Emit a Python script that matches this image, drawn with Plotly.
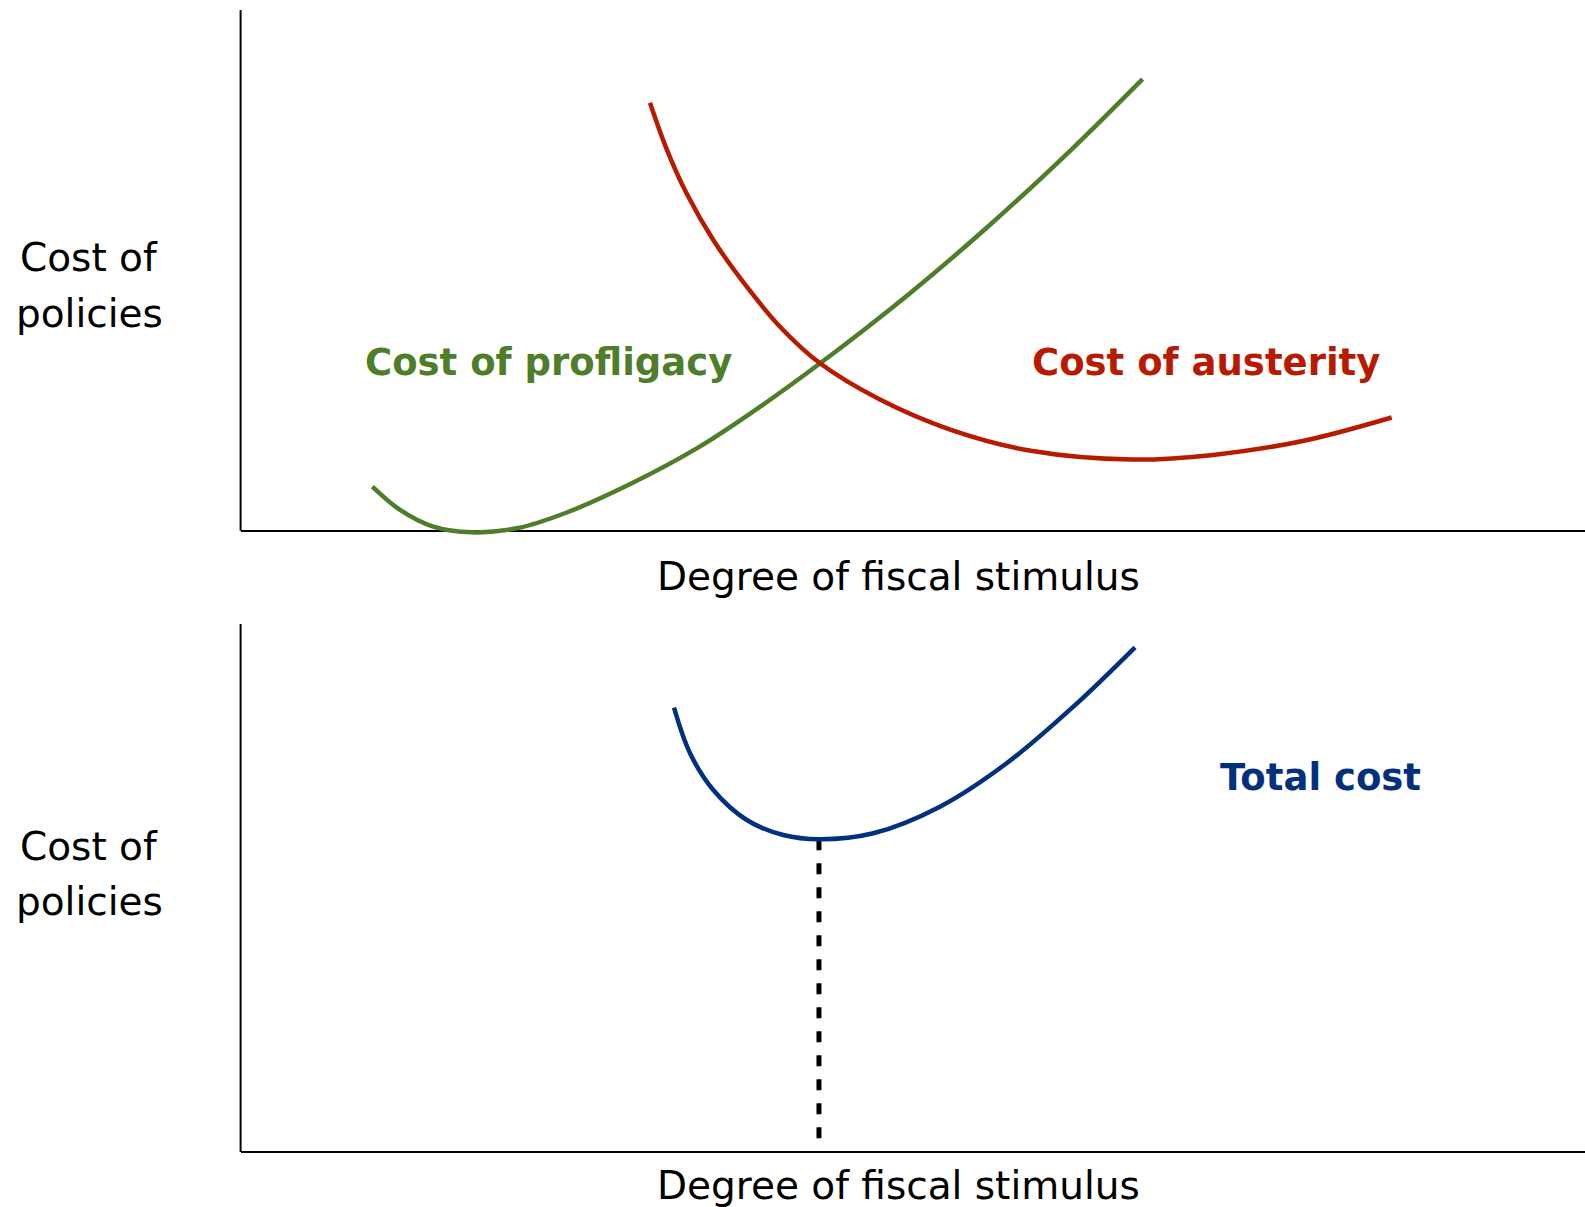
import plotly.graph_objects as go

# ---- data (arbitrary units: x = degree of fiscal stimulus, y = cost, 0-100) ----
profligacy_x = [9.80, 11.86, 14.33, 17.19, 20.54, 24.26, 29.21, 33.93, 37.74, 43.16, 49.77, 55.79, 61.80, 67.09]
profligacy_y = [8.45, 3.98, 0.77, -0.31, 0.46, 3.50, 9.26, 15.81, 22.20, 32.26, 45.57, 58.86, 73.21, 86.73]

austerity_x = [30.45, 31.72, 33.18, 35.16, 37.65, 40.12, 43.10, 47.52, 52.78, 58.79, 66.30, 72.33, 79.10, 85.62]
austerity_y = [82.20, 73.11, 64.76, 55.83, 46.86, 39.18, 32.15, 25.24, 19.42, 15.34, 13.67, 14.56, 17.28, 21.74]

total_x = [32.24, 33.43, 35.16, 37.65, 40.37, 43.02, 47.06, 52.02, 56.98, 61.94, 66.53]
total_y = [84.10, 75.47, 68.52, 62.84, 60.00, 59.19, 60.33, 65.36, 73.58, 84.29, 95.53]

optimum_x = [43.02, 43.02]
optimum_y = [59.19, 0.0]

y_label = ["Cost of", "policies"]
x_label = "Degree of fiscal stimulus"
labels = ["Cost of profligacy", "Cost of austerity", "Total cost"]

GREEN = "#4F7E2B"
RED = "#B81A00"
BLUE = "#00307E"
FONT = "DejaVu Sans"

fig = go.Figure()

curve = dict(width=4.5, shape="spline", smoothing=1.0)
fig.add_trace(go.Scatter(x=profligacy_x, y=profligacy_y, mode="lines",
                         line=dict(color=GREEN, **curve),
                         xaxis="x", yaxis="y", hoverinfo="skip"))
fig.add_trace(go.Scatter(x=austerity_x, y=austerity_y, mode="lines",
                         line=dict(color=RED, **curve),
                         xaxis="x", yaxis="y", hoverinfo="skip"))
fig.add_trace(go.Scatter(x=optimum_x, y=optimum_y, mode="lines",
                         line=dict(color="black", width=5, dash="11px,13px"),
                         xaxis="x2", yaxis="y2", hoverinfo="skip"))
fig.add_trace(go.Scatter(x=total_x, y=total_y, mode="lines",
                         line=dict(color=BLUE, **curve),
                         xaxis="x2", yaxis="y2", hoverinfo="skip"))

W, H = 1585, 1207
left = 240.6 / W

ax_common = dict(showgrid=False, showticklabels=False, ticks="", zeroline=False,
                 showline=False, fixedrange=True)
ay_common = dict(showgrid=False, showticklabels=False, ticks="", zeroline=True,
                 zerolinecolor="black", zerolinewidth=2,
                 showline=False, fixedrange=True)

fig.update_layout(
    width=W, height=H,
    margin=dict(l=0, r=0, t=0, b=0),
    paper_bgcolor="white", plot_bgcolor="white",
    showlegend=False,
    xaxis=dict(domain=[left, 1.0], range=[0, 100], anchor="y", **ax_common),
    yaxis=dict(domain=[1 - 535.4 / H, 1 - 9 / H], range=[-0.9, 100.2], anchor="x", **ay_common),
    xaxis2=dict(domain=[left, 1.0], range=[0, 100], anchor="y2", **ax_common),
    yaxis2=dict(domain=[1 - 1156.75 / H, 1 - 623.7 / H], range=[-0.9, 100], anchor="x2", **ay_common),
)

# vertical (cost) axis lines, from the horizontal axis up
for yr in ["y", "y2"]:
    fig.add_shape(type="line", xref="paper", yref=yr, x0=left, x1=left, y0=0, y1=100,
                  line=dict(color="black", width=2), layer="below")

reg = dict(family=FONT, size=39, color="black")
bold = lambda c: dict(family=FONT, size=37, color=c, weight="bold")

ann = [
    dict(text=y_label[0], x=89 / W, y=1 - 257.8 / H, font=reg),
    dict(text=y_label[1], x=89 / W, y=1 - 313.3 / H, font=reg),
    dict(text=y_label[0], x=89 / W, y=1 - 846.1 / H, font=reg),
    dict(text=y_label[1], x=89 / W, y=1 - 901.6 / H, font=reg),
    dict(text=x_label, x=898.5 / W, y=1 - 577 / H, font=reg),
    dict(text=x_label, x=898.5 / W, y=1 - 1185.5 / H, font=reg),
    dict(text=labels[0], x=548 / W, y=1 - 362 / H, font=bold(GREEN)),
    dict(text=labels[1], x=1206 / W, y=1 - 362 / H, font=bold(RED)),
    dict(text=labels[2], x=1320 / W, y=1 - 778 / H, font=bold(BLUE)),
]
for a in ann:
    fig.add_annotation(xref="paper", yref="paper", xanchor="center", yanchor="middle",
                       showarrow=False, align="center", **a)

fig.write_html("out.html", config={"displayModeBar": False, "staticPlot": True},
               post_script="document.body.style.margin='0';")
